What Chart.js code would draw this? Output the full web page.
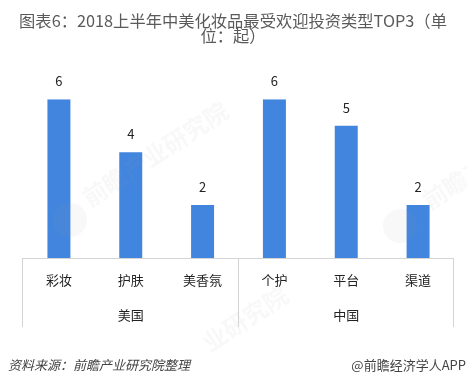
<!DOCTYPE html>
<html>
<head>
<meta charset="utf-8">
<script src="https://cdn.jsdelivr.net/npm/chart.js@4"></script>
<style>
html, body { margin: 0; padding: 0; background: #fff; }
#wrap { position: relative; width: 467px; height: 384px; overflow: hidden; }
.note { position: absolute; top: 356px; font-family: "Noto Sans CJK SC", sans-serif; font-size: 13px; line-height: 18px; color: #444; white-space: nowrap; }
</style>
</head>
<body>
<div id="wrap">
  <canvas id="chart1" width="467" height="384"></canvas>
  <div class="note" style="left:8px;font-style:italic;">资料来源：前瞻产业研究院整理</div>
  <div class="note" style="right:1px;">@前瞻经济学人APP</div>
</div>
<script>
const categories = ['彩妆', '护肤', '美香氛', '个护', '平台', '渠道'];
const dealCounts = [6, 4, 2, 6, 5, 2];
const groups = ['美国', '中国'];
const groupSizes = [3, 3];
const titleLines = ['图表6：2018上半年中美化妆品最受欢迎投资类型TOP3（单', '位：起）'];
const cjk = '"Noto Sans CJK SC", sans-serif';

// 数值标签、分组标签和分隔线
const extras = {
    id: 'extras',
    afterDatasetsDraw(chart) {
        const { ctx, chartArea, scales } = chart;
        const x = scales.x;
        const bars = chart.getDatasetMeta(0).data;
        ctx.save();
        ctx.font = '13px ' + cjk;
        ctx.fillStyle = '#222';
        ctx.textAlign = 'center';
        ctx.textBaseline = 'middle';
        bars.forEach((bar, i) => ctx.fillText(dealCounts[i], bar.x, bar.y - 18));

        const step = x.width / categories.length;
        const lineBottom = 327;
        ctx.strokeStyle = '#d4d4d4';
        ctx.lineWidth = 1;
        ctx.beginPath();
        ctx.moveTo(x.left - 1, chartArea.bottom + 0.5);
        ctx.lineTo(x.right, chartArea.bottom + 0.5);
        let pos = 0;
        ctx.moveTo(Math.round(x.left) - 0.5, chartArea.bottom);
        ctx.lineTo(Math.round(x.left) - 0.5, lineBottom);
        groups.forEach((g, i) => {
            const start = x.left + pos * step;
            pos += groupSizes[i];
            const end = x.left + pos * step;
            ctx.moveTo(Math.round(end) - 0.5, chartArea.bottom);
            ctx.lineTo(Math.round(end) - 0.5, lineBottom);
            ctx.fillText(g, (start + end) / 2, 315);
        });
        ctx.stroke();
        ctx.restore();
    }
};

// 浅色水印
const watermark = {
    id: 'watermark',
    afterDatasetsDraw(chart) {
        const { ctx } = chart;
        ctx.save();
        ctx.font = 'bold 24px ' + cjk;
        ctx.textBaseline = 'middle';
        ctx.fillStyle = 'rgba(150,160,170,0.07)';
        const marks = [[85, 200, '前瞻产业研究院'], [205, 345, '业研究院'], [425, 203, '前瞻产业']];
        marks.forEach(m => {
            ctx.save();
            ctx.translate(m[0], m[1]);
            ctx.rotate(-0.58);
            ctx.fillText(m[2], 0, 0);
            ctx.restore();
        });
        [[70, 220], [400, 226]].forEach(p => {
            ctx.beginPath();
            ctx.arc(p[0], p[1], 17, 0, Math.PI * 2);
            ctx.fill();
        });
        ctx.restore();
    }
};

new Chart(document.getElementById('chart1'), {
    type: 'bar',
    data: {
        labels: categories,
        datasets: [{
            data: dealCounts,
            backgroundColor: '#4285de',
            barPercentage: 1,
            categoryPercentage: 0.32
        }]
    },
    plugins: [watermark, extras],
    options: {
        responsive: false,
        animation: false,
        layout: { padding: { top: 13, left: 12, right: 13, bottom: 0 } },
        plugins: {
            legend: { display: false },
            tooltip: { enabled: false },
            title: {
                display: true,
                text: titleLines,
                color: '#5a5a5a',
                font: { family: cjk, size: 16.3, weight: 'normal', lineHeight: 0.93 },
                padding: { top: 0, bottom: 56 }
            }
        },
        scales: {
            x: {
                grid: { display: false },
                border: { display: false },
                ticks: {
                    color: '#222',
                    font: { family: cjk, size: 13 },
                    padding: 6,
                    maxRotation: 0,
                    autoSkip: false
                },
                afterFit(scale) { scale.height = 126; }
            },
            y: {
                min: 0,
                max: 6,
                grid: { display: false },
                border: { display: false },
                ticks: { display: false },
                afterFit(scale) { scale.width = 11; }
            }
        }
    }
});
</script>
</body>
</html>
